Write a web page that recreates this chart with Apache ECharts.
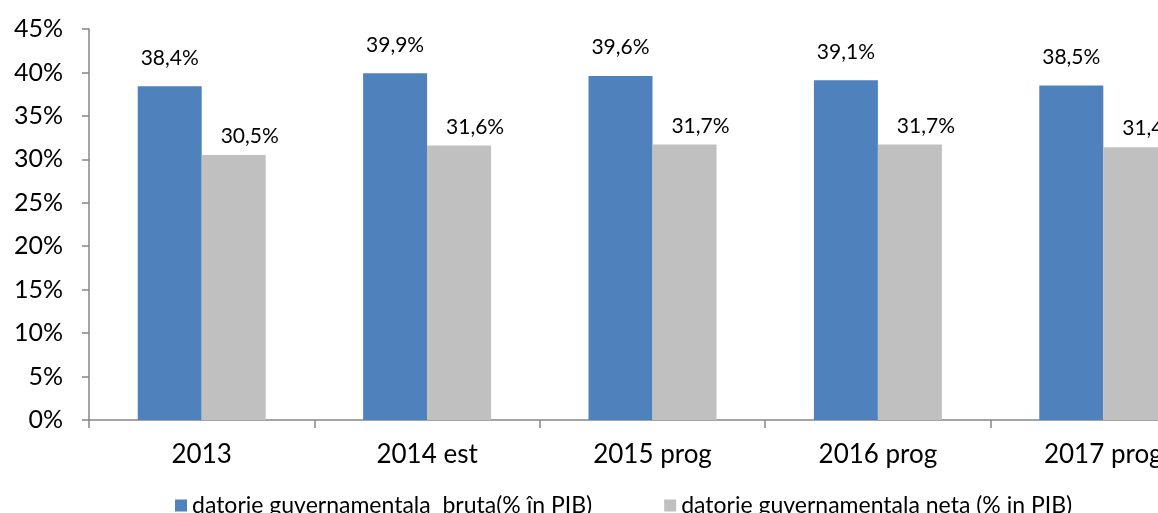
<!DOCTYPE html>
<html lang="ro">
<head>
    <meta charset="UTF-8">
    <title>Datorie guvernamentala</title>
    <style>
        html, body { margin: 0; padding: 0; background: #fff; }
        #main { width: 1158px; height: 513px; }
    </style>
</head>
<body>
<div id="main"></div>
<script src="https://cdn.jsdelivr.net/npm/echarts@6/dist/echarts.min.js"></script>
<script>
    // date
    var ani = ['2013', '2014 est', '2015 prog', '2016 prog', '2017 prog'];
    var bruta = [38.4, 39.9, 39.6, 39.1, 38.5];
    var neta = [30.5, 31.6, 31.7, 31.7, 31.4];
    var numeBruta = 'datorie guvernamentala  bruta(% în PIB)';
    var numeNeta = 'datorie guvernamentala neta (% in PIB)';

    var font = 'Lato, "Open Sans", sans-serif';
    var axisColor = '#868686';

    function procent(p) {
        return p.value.toFixed(1).replace('.', ',') + '%';
    }

    var myChart = echarts.init(document.getElementById('main'));
    var option = {
        animation: false,
        textStyle: { fontFamily: font, color: '#000' },
        // graficul original e taiat in dreapta
        grid: { left: 89, top: 29, height: 391, width: 1127, outerBoundsMode: 'none', containLabel: false },
        legend: {
            left: 170,
            top: 489,
            itemWidth: 12,
            itemHeight: 12,
            itemGap: 72,
            icon: 'rect',
            textStyle: { fontFamily: font, fontSize: 23, color: '#000' },
            data: [numeBruta, numeNeta]
        },
        xAxis: {
            type: 'category',
            data: ani,
            axisLine: { lineStyle: { color: axisColor, width: 1.5 } },
            axisTick: { show: true, length: 8, lineStyle: { color: axisColor, width: 1.5 } },
            axisLabel: { fontFamily: font, fontSize: 26, color: '#000', margin: 22 }
        },
        yAxis: {
            type: 'value',
            min: 0,
            max: 45,
            interval: 5,
            splitLine: { show: false },
            axisLine: { show: true, lineStyle: { color: axisColor, width: 1.5 } },
            axisTick: { show: true, length: 7, lineStyle: { color: axisColor, width: 1.5 } },
            axisLabel: { formatter: '{value}%', fontFamily: font, fontSize: 25, color: '#000', margin: 26 }
        },
        series: [{
            name: numeBruta,
            type: 'bar',
            data: bruta,
            barWidth: 64,
            barGap: '0%',
            itemStyle: { color: '#4F81BD' },
            label: { show: true, position: 'top', distance: 18, formatter: procent, fontFamily: font, fontSize: 21, color: '#000' }
        }, {
            name: numeNeta,
            type: 'bar',
            data: neta,
            barWidth: 64,
            itemStyle: { color: '#C0C0C0' },
            label: { show: true, position: 'top', distance: 8, offset: [16, 0], formatter: procent, fontFamily: font, fontSize: 21, color: '#000' }
        }]
    };
    myChart.setOption(option);
</script>
</body>
</html>
